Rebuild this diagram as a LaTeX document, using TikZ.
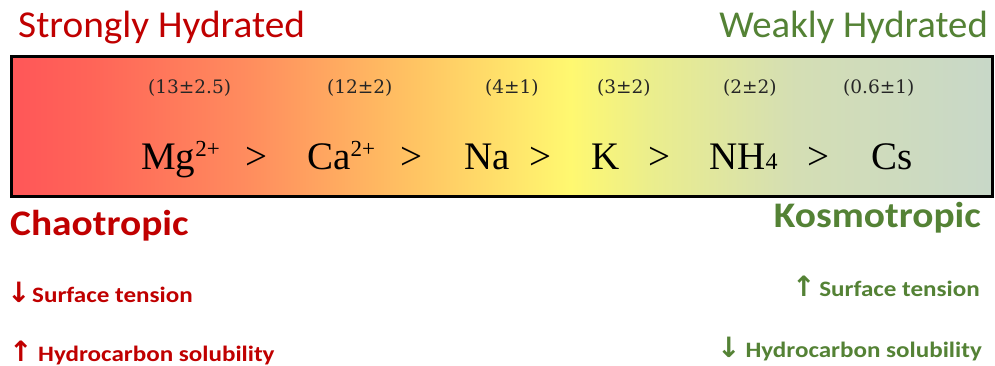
\documentclass[tikz,border=0pt]{standalone}
\usepackage{fontspec}
\usepackage{graphicx}
\setmainfont{Liberation Serif}
\newfontfamily\calfont{Carlito}
\newfontfamily\dvfont{DejaVu Sans}
\newfontfamily\dvserif{DejaVu Serif}
\definecolor{hred}{HTML}{C00000}
\definecolor{hgreen}{HTML}{548235}
\definecolor{g1}{RGB}{255,88,88}
\definecolor{g2}{RGB}{255,100,88}
\definecolor{g3}{RGB}{255,140,94}
\definecolor{g4}{RGB}{255,192,98}
\definecolor{g5}{RGB}{255,248,112}
\definecolor{g6}{RGB}{235,238,140}
\definecolor{g7}{RGB}{212,222,180}
\definecolor{g8}{RGB}{200,216,200}
\pgfdeclarehorizontalshading{hyd}{100bp}{color(0bp)=(g1); color(25.5bp)=(g1); color(29bp)=(g2); color(37bp)=(g3); color(45bp)=(g4); color(53.5bp)=(g5); color(57.5bp)=(g6); color(65bp)=(g7); color(75bp)=(g8); color(100bp)=(g8)}
\newcommand{\sx}[2]{\scalebox{#1}[1]{#2}}
\tikzset{
  title/.style={font=\calfont\fontsize{38}{40}\selectfont, inner sep=0pt},
  big/.style={font=\calfont\bfseries\fontsize{36}{40}\selectfont, inner sep=0pt},
  prop/.style={font=\calfont\bfseries\fontsize{22}{24}\selectfont, inner sep=0pt, anchor=base west},
  arrw/.style={font=\dvfont\bfseries\fontsize{28}{30}\selectfont, inner sep=0pt, anchor=base west},
  ion/.style={font=\fontsize{39}{42}\selectfont, inner sep=0pt, anchor=base west},
  val/.style={font=\dvserif\fontsize{18.5}{20}\selectfont, inner sep=0pt, anchor=base west, text=black!85},
}
\newcommand{\ionsup}[1]{\raisebox{13pt}{\fontsize{23}{24}\selectfont #1}}
\begin{document}
\begin{tikzpicture}[x=1pt,y=-1pt]
\useasboundingbox (0,0) rectangle (995,366);
\fill[white] (0,0) rectangle (995,366);
% bar
\node[draw=black, line width=3pt, shading=hyd, minimum width=981pt, minimum height=139pt, inner sep=0pt] (bar) at (501.5,126.5) {};
% titles
\node[title, text=hred, anchor=base west] (strong) at (18,38) {\sx{1.035}{Strongly Hydrated}};
\node[title, text=hgreen, anchor=base east] (weak) at (988,38) {\sx{1.02}{Weakly Hydrated}};
% values
\node[val] (v1) at (148,94) {(13±2.5)};
\node[val] (v2) at (327,94) {(12±2)};
\node[val] (v3) at (485,94) {(4±1)};
\node[val] (v4) at (597,94) {(3±2)};
\node[val] (v5) at (723,94) {(2±2)};
\node[val] (v6) at (843,94) {(0.6±1)};
% ions
\node[ion] (mg) at (141,170) {Mg\ionsup{2+}};
\node[ion] (gt1) at (245,170) {>};
\node[ion] (ca) at (307,170) {Ca\ionsup{2+}};
\node[ion] (gt2) at (400,170) {>};
\node[ion] (na) at (464,170) {Na};
\node[ion] (gt3) at (529,170) {>};
\node[ion] (k) at (591,170) {K};
\node[ion] (gt4) at (648,170) {>};
\node[ion] (nh) at (709,170) {NH{\fontsize{24}{26}\selectfont 4}};
\node[ion] (gt5) at (807,170) {>};
\node[ion] (cs) at (871,170) {Cs};
% bottom labels
\node[big, text=hred, anchor=base west] (chao) at (10,235) {\sx{1.095}{Chaotropic}};
\node[big, text=hgreen, anchor=base east] (kosmo) at (981,227) {\sx{1.095}{Kosmotropic}};
\node[arrw, text=hred] (a1) at (7,302) {↓};
\node[prop, text=hred] (st1) at (32,302) {\sx{1.14}{Surface tension}};
\node[arrw, text=hred] (a2) at (9,361) {↑};
\node[prop, text=hred] (hc1) at (38,361) {\sx{1.14}{Hydrocarbon solubility}};
\node[arrw, text=hgreen] (a3) at (792,296) {↑};
\node[prop, text=hgreen, anchor=base east] (st2) at (980,296) {\sx{1.14}{Surface tension}};
\node[arrw, text=hgreen] (a4) at (717,357) {↓};
\node[prop, text=hgreen, anchor=base east] (hc2) at (982,357) {\sx{1.14}{Hydrocarbon solubility}};
\end{tikzpicture}
\end{document}
